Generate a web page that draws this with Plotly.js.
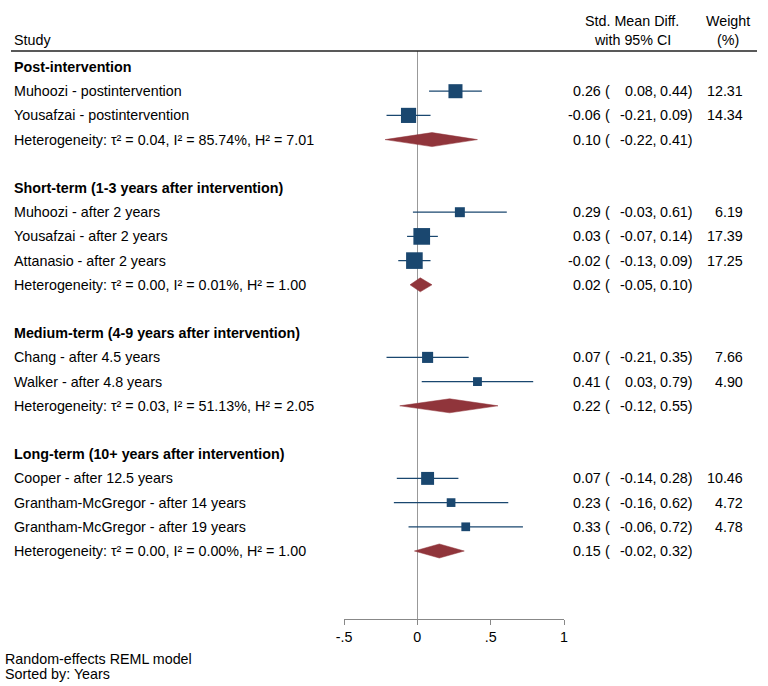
<!DOCTYPE html>
<html>
<head>
<meta charset="utf-8">
<script src="https://cdn.plot.ly/plotly-3.0.1.min.js"></script>
<style>html,body{margin:0;padding:0;background:#fff;}#chart{width:768px;height:686px;}</style>
</head>
<body>
<div id="chart"></div>
<script>
// ---- Data ----
var groups = ["Post-intervention", "Short-term (1-3 years after intervention)", "Medium-term (4-9 years after intervention)", "Long-term (10+ years after intervention)"];
var studies = ["Muhoozi - postintervention", "Yousafzai - postintervention", "Muhoozi - after 2 years", "Yousafzai - after 2 years", "Attanasio - after 2 years", "Chang - after 4.5 years", "Walker - after 4.8 years", "Cooper - after 12.5 years", "Grantham-McGregor - after 14 years", "Grantham-McGregor - after 19 years"];
var studyGroup = [0, 0, 1, 1, 1, 2, 2, 3, 3, 3];
var est = [0.26, -0.06, 0.29, 0.03, -0.02, 0.07, 0.41, 0.07, 0.23, 0.33];
var lo = [0.08, -0.21, -0.03, -0.07, -0.13, -0.21, 0.03, -0.14, -0.16, -0.06];
var hi = [0.44, 0.09, 0.61, 0.14, 0.09, 0.35, 0.79, 0.28, 0.62, 0.72];
var weights = [12.31, 14.34, 6.19, 17.39, 17.25, 7.66, 4.90, 10.46, 4.72, 4.78];
var tau2 = [0.04, 0.00, 0.03, 0.00];
var I2 = [85.74, 0.01, 51.13, 0.00];
var H2 = [7.01, 1.00, 2.05, 1.00];
var pooledEst = [0.10, 0.02, 0.22, 0.15];
var pooledLo = [-0.22, -0.05, -0.12, -0.02];
var pooledHi = [0.41, 0.10, 0.55, 0.32];
var tickVals = [-0.5, 0, 0.5, 1];
var tickText = ["-.5", "0", ".5", "1"];

// ---- Layout helpers ----
var W = 768, H = 686;
var mL = 344, mR = 204, mT = 51, mB = 67;
var plotW = W - mL - mR, plotH = H - mT - mB;
function px2paperX(px) { return (px - mL) / plotW; }
function px2paperY(py) { return (H - mB - py) / plotH; }
var FONT = "Liberation Sans, Arial, Helvetica, sans-serif";
var FS = 14.3;
var navy = "#1a476f", maroon = "#90353b";

// compute rows
var studyRow = [], groupRow = [], hetRow = [];
var r = 0;
for (var g = 0; g < groups.length; g++) {
  groupRow.push(r); r++;
  for (var i = 0; i < studies.length; i++) {
    if (studyGroup[i] === g) { studyRow.push(r); r++; }
  }
  hetRow.push(r); r++;
  r++; // blank
}

var annotations = [];
function addText(text, xpx, y, anchor, yref, bold) {
  var adj = anchor === "left" ? -2 : (anchor === "right" ? 2 : 0);
  annotations.push({
    text: bold ? "<b>" + text + "</b>" : text,
    x: px2paperX(xpx + adj), xref: "paper",
    y: y, yref: yref || "y",
    xanchor: anchor, yanchor: "middle",
    showarrow: false,
    font: {family: FONT, size: FS, color: "#000"}
  });
}
function fmt(v) { return v.toFixed(2); }
function addEstimate(e, l, h, row) {
  addText(fmt(e), 601, row, "right");
  addText("(", 605, row, "left");
  addText(fmt(l) + ",", 657, row, "right");
  addText(fmt(h) + ")", 693, row, "right");
}

// Headers
addText("Study", 14, px2paperY(40), "left", "paper");
addText("Std. Mean Diff.", 632, px2paperY(21), "center", "paper");
addText("with 95% CI", 632, px2paperY(40), "center", "paper");
addText("Weight", 728, px2paperY(21), "center", "paper");
addText("(%)", 728, px2paperY(40), "center", "paper");

for (var g2 = 0; g2 < groups.length; g2++) {
  addText(groups[g2], 14, groupRow[g2], "left", "y", true);
  var het = "Heterogeneity: τ² = " + tau2[g2].toFixed(2) + ", I² = " + I2[g2].toFixed(2) + "%, H² = " + H2[g2].toFixed(2);
  addText(het, 14, hetRow[g2], "left");
  addEstimate(pooledEst[g2], pooledLo[g2], pooledHi[g2], hetRow[g2]);
}
for (var k = 0; k < studies.length; k++) {
  addText(studies[k], 14, studyRow[k], "left");
  addEstimate(est[k], lo[k], hi[k], studyRow[k]);
  addText(fmt(weights[k]), 743, studyRow[k], "right");
}

// Footer
addText("Random-effects REML model", 5, px2paperY(659), "left", "paper");
addText("Sorted by: Years", 5, px2paperY(674), "left", "paper");

// ---- Traces ----
var traces = [];
// diamonds
var dh = 0.29;
for (var d = 0; d < groups.length; d++) {
  var yr = hetRow[d];
  traces.push({
    type: "scatter", mode: "lines", fill: "toself",
    x: [pooledLo[d], pooledEst[d], pooledHi[d], pooledEst[d], pooledLo[d]],
    y: [yr, yr - dh, yr, yr + dh, yr],
    fillcolor: maroon, line: {color: maroon, width: 0.5},
    hoverinfo: "skip", showlegend: false
  });
}
// CI + squares
traces.push({
  type: "scatter", mode: "markers",
  x: est, y: studyRow,
  error_x: {type: "data", symmetric: false,
    array: hi.map(function (h, i) { return h - est[i]; }),
    arrayminus: lo.map(function (l, i) { return est[i] - l; }),
    color: navy, thickness: 1.2, width: 0},
  marker: {symbol: "square", color: navy, opacity: 1, size: weights.map(function (w) { return 4.0 * Math.sqrt(w); }), line: {width: 0}},
  hoverinfo: "skip", showlegend: false
});

var layout = {
  width: W, height: H,
  margin: {l: mL, r: mR, t: mT, b: mB, pad: 0},
  paper_bgcolor: "#fff", plot_bgcolor: "#fff",
  showlegend: false,
  xaxis: {
    range: [-0.5, 1], fixedrange: true,
    tickvals: tickVals, ticktext: tickText,
    ticks: "outside", ticklen: 5, tickcolor: "#888", tickwidth: 1,
    showline: true, linecolor: "#888", linewidth: 1,
    showgrid: false, zeroline: true, zerolinecolor: "#999", zerolinewidth: 1,
    tickfont: {family: FONT, size: FS, color: "#000"}
  },
  yaxis: {
    range: [(619 - 67) / 24.2, (51 - 67) / 24.2],
    visible: false, showgrid: false, zeroline: false, fixedrange: true
  },
  shapes: [{
    type: "line", xref: "paper", yref: "paper",
    x0: px2paperX(11), x1: px2paperX(757), y0: 1, y1: 1,
    line: {color: "#222", width: 1.5}
  }],
  annotations: annotations
};

Plotly.newPlot("chart", traces, layout, {displayModeBar: false, staticPlot: true});
</script>
</body>
</html>
